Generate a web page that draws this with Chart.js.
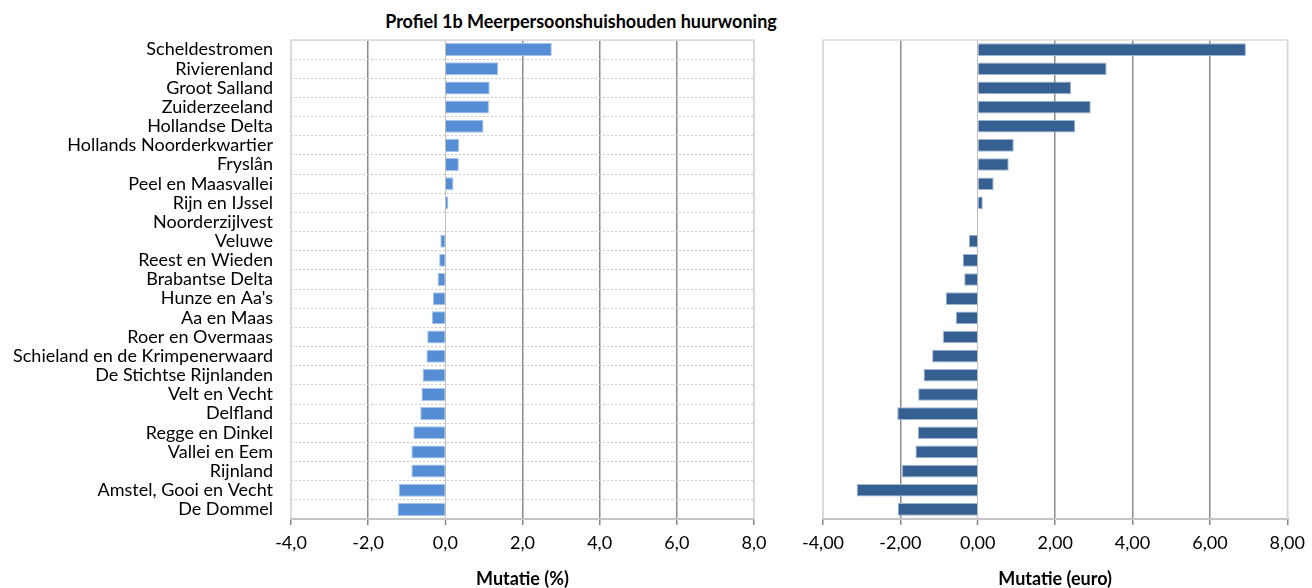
<!DOCTYPE html>
<html>
<head>
<meta charset="utf-8">
<script src="https://cdn.jsdelivr.net/npm/chart.js@4"></script>
<style>
  body { margin: 0; background: #fff; }
  #wrap { position: relative; width: 1312px; height: 588px; }
  #title {
    position: absolute; left: 0; top: 10px; width: 1162px; line-height: 20px;
    text-align: center; font: bold 18px Lato, sans-serif; color: #000;
  }
  #pctChart { position: absolute; left: 0; top: 0; }
  #euroChart { position: absolute; left: 790px; top: 0; }
</style>
</head>
<body>
<div id="wrap">
  <div id="title">Profiel 1b Meerpersoonshuishouden huurwoning</div>
  <canvas id="pctChart" width="780" height="588"></canvas>
  <canvas id="euroChart" width="522" height="588"></canvas>
</div>
<script>
const regions = [
  "Scheldestromen", "Rivierenland", "Groot Salland", "Zuiderzeeland",
  "Hollandse Delta", "Hollands Noorderkwartier", "Fryslân", "Peel en Maasvallei",
  "Rijn en IJssel", "Noorderzijlvest", "Veluwe", "Reest en Wieden",
  "Brabantse Delta", "Hunze en Aa's", "Aa en Maas", "Roer en Overmaas",
  "Schieland en de Krimpenerwaard", "De Stichtse Rijnlanden", "Velt en Vecht",
  "Delfland", "Regge en Dinkel", "Vallei en Eem", "Rijnland",
  "Amstel, Gooi en Vecht", "De Dommel"
];
const mutatiePct = [
  2.76, 1.37, 1.15, 1.13, 0.99, 0.36, 0.35, 0.21, 0.08, 0, -0.13, -0.16,
  -0.20, -0.32, -0.35, -0.47, -0.49, -0.59, -0.62, -0.65, -0.83, -0.88,
  -0.88, -1.21, -1.24
];
const mutatieEuro = [
  6.93, 3.33, 2.41, 2.92, 2.52, 0.93, 0.80, 0.41, 0.13, 0.01, -0.23, -0.39,
  -0.35, -0.83, -0.57, -0.90, -1.18, -1.40, -1.54, -2.08, -1.55, -1.61,
  -1.96, -3.13, -2.07
];
const xMin = -4, xMax = 8, xStep = 2;

const FONT = "Lato, sans-serif";

// light frame round the plot area
const frame = {
  id: "frame",
  beforeDatasetsDraw(chart) {
    const a = chart.chartArea;
    const ctx = chart.ctx;
    ctx.save();
    ctx.strokeStyle = "#d9d9d9";
    ctx.lineWidth = 1.5;
    ctx.strokeRect(a.left, a.top, a.right - a.left, a.bottom - a.top);
    ctx.restore();
  }
};

function gridColor(ctx) {
  const v = ctx.tick ? ctx.tick.value : null;
  if (v === xMin || v === xMax) return "#d9d9d9";
  if (v === 0) return "#bfbfbf";
  return "#8c8c8c";
}

function xScale(decimals, titleText) {
  return {
    min: xMin,
    max: xMax,
    afterFit(scale) { scale.height = 69; },
    ticks: {
      stepSize: xStep,
      color: "#000",
      padding: 7,
      font: { family: FONT, size: 18 },
      callback: (v) => Number(v).toFixed(decimals).replace(".", ","),
    },
    grid: {
      color: gridColor,
      lineWidth: (ctx) => (ctx.tick && ctx.tick.value === 0 ? 1 : 1.5),
      tickLength: 6,
      tickColor: "#868686",
      tickWidth: 1.5,
    },
    border: { color: "#868686", width: 2 },
    title: {
      display: true,
      text: titleText,
      color: "#000",
      padding: { top: 0, bottom: 0 },
      font: { family: FONT, size: 18, weight: "bold", lineHeight: 1 },
    },
  };
}

new Chart(document.getElementById("pctChart"), {
  type: "bar",
  data: {
    labels: regions,
    datasets: [
      {
        label: "Mutatie (%)",
        data: mutatiePct,
        backgroundColor: "#558ed5",
        borderColor: "#a6c3ea",
        borderWidth: 1,
        barPercentage: 0.68,
        categoryPercentage: 1,
      },
    ],
  },
  options: {
    indexAxis: "y",
    responsive: false,
    animation: false,
    layout: { padding: { top: 40, right: 26, left: 0, bottom: 0 } },
    plugins: { legend: { display: false }, tooltip: { enabled: false } },
    scales: {
      x: xScale(1, "Mutatie (%)"),
      y: {
        afterFit(scale) { scale.width = 291; },
        ticks: {
          color: "#000",
          padding: 18,
          autoSkip: false,
          font: { family: FONT, size: 18 },
        },
        grid: {
          color: "#cccccc",
          lineWidth: 1,
          drawTicks: false,
        },
        border: { display: false, dash: [2, 2] },
      },
    },
  },
  plugins: [frame],
});

new Chart(document.getElementById("euroChart"), {
  type: "bar",
  data: {
    labels: regions,
    datasets: [
      {
        label: "Mutatie (euro)",
        data: mutatieEuro,
        backgroundColor: "#376092",
        borderColor: "#9db5d3",
        borderWidth: 1,
        barPercentage: 0.66,
        categoryPercentage: 1,
      },
    ],
  },
  options: {
    indexAxis: "y",
    responsive: false,
    animation: false,
    layout: { padding: { top: 40, right: 20, left: 33, bottom: 0 } },
    plugins: { legend: { display: false }, tooltip: { enabled: false } },
    scales: {
      x: xScale(2, "Mutatie (euro)"),
      y: { display: false },
    },
  },
  plugins: [frame],
});
</script>
</body>
</html>
